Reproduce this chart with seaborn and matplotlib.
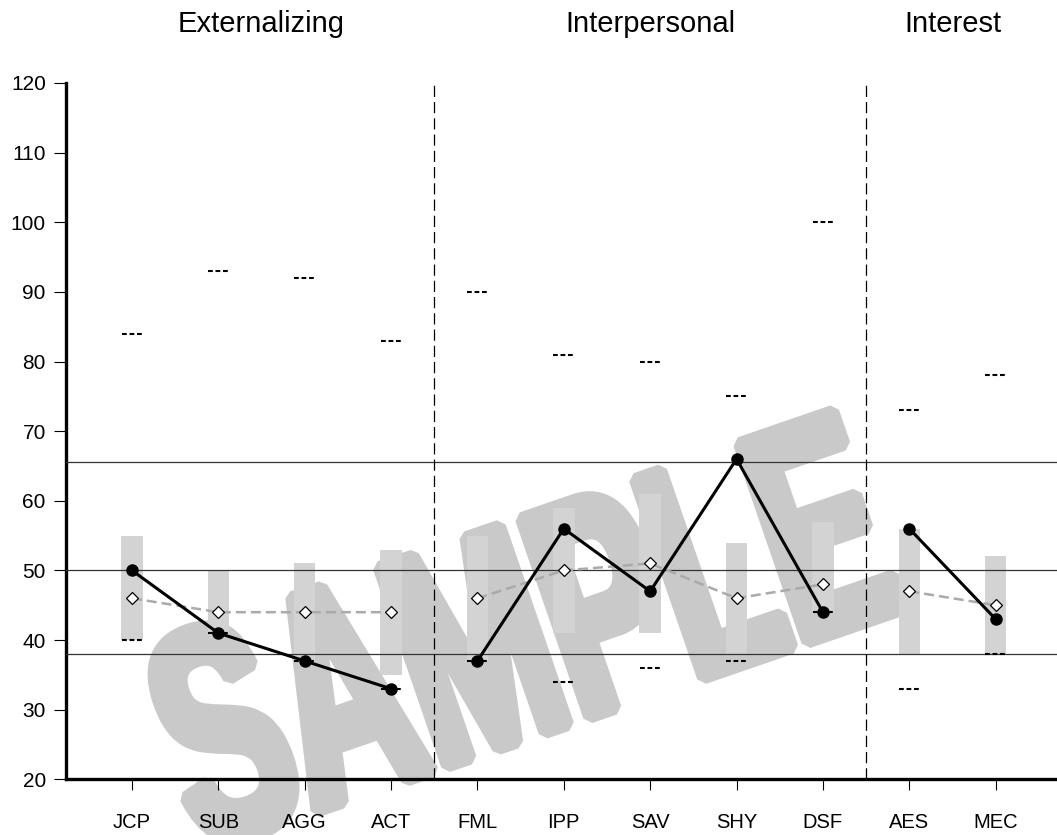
import numpy as np
import pandas as pd
import seaborn as sns
import matplotlib.pyplot as plt
from matplotlib.textpath import TextPath
from matplotlib.patches import PathPatch
from matplotlib.font_manager import FontProperties
from matplotlib.transforms import Affine2D, IdentityTransform

sns.set_style("ticks")
plt.rcParams['font.family'] = ['Liberation Sans', 'DejaVu Sans']
plt.rcParams.update({'text.color': 'black', 'xtick.color': 'black',
                     'ytick.color': 'black', 'axes.edgecolor': 'black'})

# scale data
scales = ["JCP", "SUB", "AGG", "ACT", "FML", "IPP", "SAV", "SHY", "DSF", "AES", "MEC"]
groups = ["Externalizing"] * 4 + ["Interpersonal"] * 5 + ["Interest"] * 2
scores = [50, 41, 37, 33, 37, 56, 47, 66, 44, 56, 43]
norm_mean = [46, 44, 44, 44, 46, 50, 51, 46, 48, 47, 45]
band_low = [40, 41, 37, 35, 37, 41, 41, 38, 44, 38, 38]
band_high = [55, 50, 51, 53, 55, 59, 61, 54, 57, 56, 52]
range_high = [84, 93, 92, 83, 90, 81, 80, 75, 100, 73, 78]
range_low = [40, 41, 37, 33, 37, 34, 36, 37, 44, 33, 38]
ref_lines = [38, 50, 65.5]
yticks = [20, 30, 40, 50, 60, 70, 80, 90, 100, 110, 120]

df = pd.DataFrame({"scale": scales, "group": groups, "score": scores,
                   "norm": norm_mean, "lo": band_low, "hi": band_high,
                   "rlo": range_low, "rhi": range_high})
df["pos"] = np.arange(len(df))

fig = plt.figure(figsize=(10.57, 8.35), dpi=100)
ax = fig.add_axes([0.0624, 0.0667, 0.9376, 0.8339])
ax.set_axisbelow(False)

# watermark
fp = FontProperties(family='Liberation Sans', weight='bold')
tp = TextPath((0, 0), "SAMPLE", size=100, prop=fp)
bb = tp.get_extents()
tr = (Affine2D().translate(-bb.x0 - bb.width / 2, -bb.y0 - bb.height / 2)
      .scale(740 / bb.width, 215 / bb.height).rotate_deg(19).translate(520, 835 - 630))
ax.add_patch(PathPatch(tr.transform_path(tp), facecolor='#c9c9c9', edgecolor='#c9c9c9',
                       lw=10, joinstyle='bevel', transform=IdentityTransform(),
                       clip_on=False, zorder=1))

# normative bands
ax.bar(df["pos"], df["hi"] - df["lo"], bottom=df["lo"], width=0.25,
       color='#d3d3d3', edgecolor='none', linewidth=0, zorder=2)

for v in ref_lines:
    ax.axhline(v, color='#333333', lw=0.9, zorder=3)

# group separators
starts = df.groupby("group", sort=False)["pos"].agg(["min", "max"])
for b in starts["min"].values[1:]:
    ax.axvline(b - 0.5, color='black', lw=0.9, linestyle=(0, (9, 4)), zorder=3)

# range marks
ax.hlines(df["rhi"], df["pos"] - 0.12, df["pos"] + 0.12, colors='black',
          linestyles=(0, (2.3, 1.3)), lw=1.5, zorder=4)
ax.hlines(df["rlo"], df["pos"] - 0.12, df["pos"] + 0.12, colors='black',
          linestyles=(0, (2.3, 1.3)), lw=1.5, zorder=4)

for g, d in df.groupby("group", sort=False):
    sns.lineplot(data=d, x="pos", y="norm", ax=ax, color='#aaaaaa', lw=1.8,
                 linestyle=(0, (4, 2)), marker='D', markersize=6.5,
                 markerfacecolor='white', markeredgecolor='black',
                 markeredgewidth=0.9, zorder=5, estimator=None, sort=False)
    sns.lineplot(data=d, x="pos", y="score", ax=ax, color='black', lw=2.2,
                 marker='o', markersize=9, markeredgewidth=0, zorder=6,
                 estimator=None, sort=False)

# group titles
for g, row in starts.iterrows():
    ax.text((row["min"] + row["max"]) / 2, 1.0850, g, ha='center', va='center',
            fontsize=21, transform=ax.get_xaxis_transform())

ax.set_xlim(-0.764, 10.71)
ax.set_ylim(20, 120)
ax.set_xticks(df["pos"])
ax.set_xticklabels(scales)
ax.set_yticks(yticks)
ax.set_xlabel("")
ax.set_ylabel("")
ax.tick_params(axis='y', length=8.5, width=0.8, pad=6, labelsize=15)
ax.tick_params(axis='x', length=8, width=0.8, pad=16, labelsize=14.5)
sns.despine(ax=ax)
ax.spines['left'].set_linewidth(2.4)
ax.spines['bottom'].set_linewidth(2.4)

fig.savefig("out.png", dpi=100)
